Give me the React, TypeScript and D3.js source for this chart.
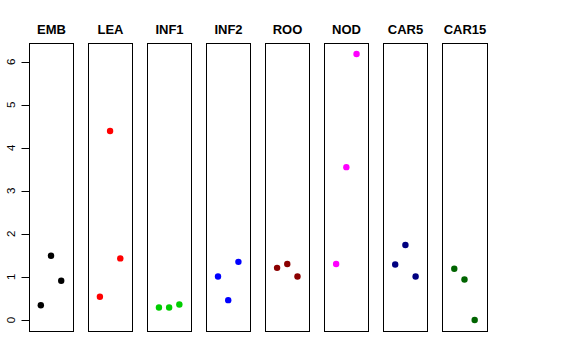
import * as d3 from "d3";

const groups = ["EMB", "LEA", "INF1", "INF2", "ROO", "NOD", "CAR5", "CAR15"];
const colors = ["#000000", "#FF0000", "#00CD00", "#0000FF", "#8B0000", "#FF00FF", "#000080", "#006400"];
// three replicates per group, plotted at x = 1, 2, 3
const rep1 = [0.34, 0.54, 0.29, 1.01, 1.21, 1.3, 1.29, 1.19];
const rep2 = [1.49, 4.39, 0.29, 0.46, 1.3, 3.55, 1.74, 0.94];
const rep3 = [0.91, 1.43, 0.36, 1.35, 1.01, 6.18, 1.01, 0.0];
const yTicks = [0, 1, 2, 3, 4, 5, 6];

const width = 576;
const height = 360;

export default function App() {
  const panel = d3
    .scaleBand<string>()
    .domain(groups)
    .range([29, 29 + 7 * 59 + 44.5])
    .paddingInner(15 / 59)
    .paddingOuter(0);

  const inner = d3.scaleLinear().domain([-0.16, 4.16]).range([0, panel.bandwidth()]);

  const y = d3.scaleLinear().domain([-0.2472, 6.4272]).range([330.6, 43.3]);

  const top = Math.round(y(6.4272)) + 0.5;
  const bottom = Math.round(y(-0.2472)) + 0.5;

  return (
    <div style={{ position: "absolute", left: 0, top: 0 }}>
      <svg width={width} height={height} style={{ display: "block", background: "#fff" }}>
        <g fontFamily="'Liberation Sans', Arial, sans-serif">
          {/* y axis */}
          {yTicks.map((t) => (
            <g key={t}>
              <line x1={21.5} x2={29.5} y1={Math.round(y(t)) + 0.5} y2={Math.round(y(t)) + 0.5} stroke="#000" />
              <text
                transform={`translate(15,${y(t)}) rotate(-90)`}
                textAnchor="middle"
                fontSize={11.5}
              >
                {t}
              </text>
            </g>
          ))}
          {groups.map((g, i) => {
            const x0 = Math.round(panel(g)!) + 0.5;
            const x1 = Math.round(panel(g)! + panel.bandwidth()) + 0.5;
            const vals = [rep1[i], rep2[i], rep3[i]];
            return (
              <g key={g}>
                <text
                  x={(x0 + x1) / 2}
                  y={34}
                  textAnchor="middle"
                  fontWeight="bold"
                  fontSize={13}
                >
                  {g}
                </text>
                <rect x={x0} y={top} width={x1 - x0} height={bottom - top} fill="none" stroke="#000" />
                {vals.map((v, j) => (
                  <circle
                    key={j}
                    cx={panel(g)! + inner(j + 1)}
                    cy={y(v)}
                    r={3.2}
                    fill={colors[i]}
                  />
                ))}
              </g>
            );
          })}
        </g>
      </svg>
    </div>
  );
}
